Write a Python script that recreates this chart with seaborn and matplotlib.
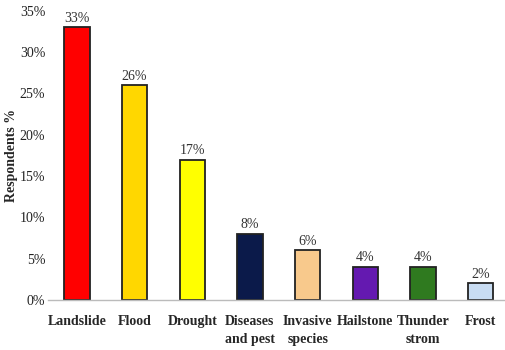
import matplotlib
matplotlib.use("Agg")
import matplotlib.pyplot as plt
import seaborn as sns
import pandas as pd
from matplotlib.ticker import FuncFormatter

categories = ["Landslide", "Flood", "Drought", "Diseases\nand pest", "Invasive\nspecies",
              "Hailstone", "Thunder\nstrom", "Frost"]
values = [33, 26, 17, 8, 6, 4, 4, 2]
colors = ["#FF0000", "#FFD700", "#FFFF00", "#0B1A4A", "#F8C98C", "#6419B0", "#2F7A1F", "#C8DCF2"]
y_ticks = [0, 5, 10, 15, 20, 25, 30, 35]

sns.set_theme(style="white")
plt.rcParams["font.family"] = ["Liberation Serif", "DejaVu Serif"]

df = pd.DataFrame({"hazard": categories, "pct": values})

fig = plt.figure(figsize=(5.05, 3.5), dpi=100)
ax = fig.add_axes([0.095, 0.143, 0.905, 0.826])

sns.barplot(data=df, x="hazard", y="pct", hue="hazard", palette=colors, legend=False,
            saturation=1, width=0.44, edgecolor="#222222", linewidth=1.3, ax=ax)

for i, v in enumerate(values):
    ax.text(i, v + 0.3, f"{v}%", ha="center", va="bottom", fontsize=10, color="#333333")

ax.set_ylim(0, 35)
ax.set_xlim(-0.5, 7.42)
ax.set_yticks(y_ticks)
ax.yaxis.set_major_formatter(FuncFormatter(lambda v, p: f"{int(v)}%"))
ax.tick_params(axis="y", labelsize=10, length=0, pad=2, colors="#222222")
ax.tick_params(axis="x", labelsize=10, length=0, pad=11)
for lbl in ax.get_xticklabels():
    lbl.set_fontweight("bold")
    lbl.set_linespacing(1.45)

ax.set_xlabel("")
ax.set_ylabel("Respondents %", fontsize=10, fontweight="bold")
ax.yaxis.set_label_coords(-0.066, 0.5)

for s in ["top", "right", "left"]:
    ax.spines[s].set_visible(False)
ax.spines["bottom"].set_color("#BBBBBB")
ax.spines["bottom"].set_linewidth(1.0)

fig.savefig("out.png", dpi=100)
